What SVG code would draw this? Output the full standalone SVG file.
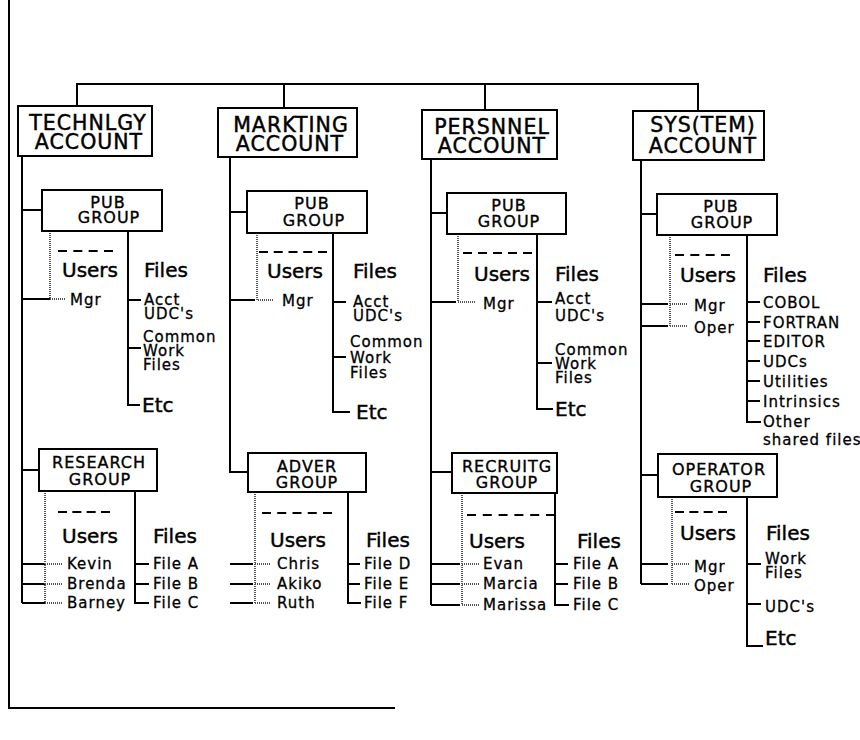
<svg xmlns="http://www.w3.org/2000/svg" width="860" height="740" viewBox="0 0 860 740">
<style>
.box{fill:#fff;stroke:#000;stroke-width:2}
.ln{stroke:#000;stroke-width:2;fill:none}
.dot{stroke:#555;stroke-width:2;stroke-dasharray:1 1;fill:none}
.dash{stroke:#000;stroke-width:2;fill:none}
text{font-family:"DejaVu Sans","Liberation Sans",sans-serif;fill:#000;stroke:#000;stroke-width:0.45px}
.acc{font-size:20.5px;letter-spacing:1px;text-anchor:middle}
.grp{font-size:16px;letter-spacing:1px;text-anchor:middle;stroke-width:0.35px}
.hd{font-size:20px}
.sm{font-size:15px;letter-spacing:1px;stroke-width:0.3px}
</style>
<rect width="860" height="740" fill="#fff"/>
<path class="ln" d="M9,0 V708 H395"/>

<g id="connectors">
<path class="ln" d="M77,106 V84 H698 V111 M284,84 V108 M485,84 V110"/>
<!-- col1 -->
<path class="ln" d="M22,156 V603 M22,210 H42 M22,470 H39 M22,299 H50 M22,564 H45 M22,584 H45 M22,603 H45"/>
<path class="dot" d="M50,231 V299 H66 M45,491 V603 M45,564 H63 M45,584 H63 M45,603 H63"/>
<path class="ln" d="M128,231 V405 H140 M128,300 H141 M128,348 H141 M135,491 V603 H149 M135,564 H149 M135,584 H149"/>
<path class="dash" stroke-dasharray="9 6.33" d="M58,251 H113"/>
<path class="dash" stroke-dasharray="9 5.33" d="M58,512 H110"/>
<!-- col2 -->
<path class="ln" d="M230,157 V472 H248 M230,212 H247 M230,300 H255 M230,564 H253 M230,584 H253 M230,603 H253"/>
<path class="dot" d="M257,233 V300 H273 M255,492 V603 M255,564 H271 M255,584 H271 M255,603 H271"/>
<path class="ln" d="M333,233 V412 H350 M333,302 H346 M333,357 H346 M348,492 V603 H361 M348,564 H360 M348,584 H360"/>
<path class="dash" stroke-dasharray="9 5.75" d="M259,252 H327"/>
<path class="dash" stroke-dasharray="9 6.25" d="M262,513 H332"/>
<!-- col3 -->
<path class="ln" d="M431,159 V605 M431,213 H447 M431,472 H452 M431,302 H456 M431,564 H460 M431,584 H460 M431,605 H460"/>
<path class="dot" d="M458,234 V302 H476 M462,493 V605 M462,564 H479 M462,584 H479 M462,605 H479"/>
<path class="ln" d="M537,234 V409 H553 M537,302 H552 M537,363 H552 M555,493 V605 H569 M555,564 H568 M555,584 H568"/>
<path class="dash" stroke-dasharray="9 6" d="M463,253 H532"/>
<path class="dash" stroke-dasharray="9 6.8" d="M467,515 H555"/>
<!-- col4 -->
<path class="ln" d="M641,160 V584 M641,214 H657 M641,475 H658 M641,304 H668 M641,326 H668 M641,564 H668 M641,584 H668"/>
<path class="dot" d="M670,235 V326 M670,304 H687 M670,326 H687 M672,497 V584 M672,564 H689 M672,584 H689"/>
<path class="ln" d="M747,235 V422 H761 M747,302 H760 M747,322 H760 M747,341 H760 M747,361 H760 M747,381 H760 M747,401 H760 M747,497 V646 H763 M747,564 H761 M747,604 H761"/>
<path class="dash" stroke-dasharray="9 6.33" d="M675,255 H730"/>
<path class="dash" stroke-dasharray="9 5.33" d="M675,512 H727"/>
</g>

<!-- Accounts -->
<g id="technlgy-account"><rect class="box" x="18" y="106" width="134" height="50"/><text class="acc" x="88" y="130">TECHNLGY</text><text class="acc" x="89" y="149">ACCOUNT</text></g>
<g id="markting-account"><rect class="box" x="218" y="108" width="139" height="49"/><text class="acc" x="291" y="132">MARKTING</text><text class="acc" x="290" y="151">ACCOUNT</text></g>
<g id="persnnel-account"><rect class="box" x="422" y="110" width="135" height="49"/><text class="acc" x="492" y="134">PERSNNEL</text><text class="acc" x="492" y="153">ACCOUNT</text></g>
<g id="system-account"><rect class="box" x="633" y="111" width="131" height="49"/><text class="acc" x="703" y="132">SYS(TEM)</text><text class="acc" x="703" y="153">ACCOUNT</text></g>

<!-- Groups -->
<g id="technlgy-pub"><rect class="box" x="42" y="190" width="120" height="41"/><text class="grp" x="108" y="208">PUB</text><text class="grp" x="109" y="223">GROUP</text></g>
<g id="research-group"><rect class="box" x="39" y="449" width="118" height="42"/><text class="grp" x="99" y="468">RESEARCH</text><text class="grp" x="100" y="485">GROUP</text></g>
<g id="markting-pub"><rect class="box" x="247" y="191" width="120" height="42"/><text class="grp" x="312" y="209">PUB</text><text class="grp" x="314" y="226">GROUP</text></g>
<g id="adver-group"><rect class="box" x="248" y="453" width="118" height="39"/><text class="grp" x="307" y="472">ADVER</text><text class="grp" x="307" y="488">GROUP</text></g>
<g id="persnnel-pub"><rect class="box" x="447" y="193" width="119" height="41"/><text class="grp" x="509" y="211">PUB</text><text class="grp" x="509" y="227">GROUP</text></g>
<g id="recruitg-group"><rect class="box" x="452" y="453" width="105" height="40"/><text class="grp" x="507" y="472">RECRUITG</text><text class="grp" x="507" y="488">GROUP</text></g>
<g id="system-pub"><rect class="box" x="657" y="194" width="120" height="41"/><text class="grp" x="721" y="212">PUB</text><text class="grp" x="722" y="228">GROUP</text></g>
<g id="operator-group"><rect class="box" x="658" y="454" width="119" height="43"/><text class="grp" x="719" y="475">OPERATOR</text><text class="grp" x="721" y="492">GROUP</text></g>

<!-- Contents col1 -->
<g id="technlgy-pub-contents">
<text class="hd" x="62" y="277">Users</text><text class="hd" x="144" y="277">Files</text>
<text class="sm" x="70" y="305">Mgr</text>
<text class="sm" x="144" y="305">Acct</text><text class="sm" x="144" y="319">UDC's</text>
<text class="sm" x="143" y="342">Common</text><text class="sm" x="143" y="356">Work</text><text class="sm" x="143" y="370">Files</text>
<text class="hd" x="142" y="412">Etc</text>
</g>
<g id="research-contents">
<text class="hd" x="62" y="543">Users</text><text class="hd" x="153" y="543">Files</text>
<text class="sm" x="67" y="569">Kevin</text><text class="sm" x="67" y="589">Brenda</text><text class="sm" x="67" y="608">Barney</text>
<text class="sm" x="153" y="569">File A</text><text class="sm" x="153" y="589">File B</text><text class="sm" x="153" y="608">File C</text>
</g>
<!-- col2 -->
<g id="markting-pub-contents">
<text class="hd" x="267" y="278">Users</text><text class="hd" x="353" y="278">Files</text>
<text class="sm" x="282" y="306">Mgr</text>
<text class="sm" x="353" y="307">Acct</text><text class="sm" x="353" y="321">UDC's</text>
<text class="sm" x="350" y="347">Common</text><text class="sm" x="350" y="363">Work</text><text class="sm" x="350" y="378">Files</text>
<text class="hd" x="356" y="419">Etc</text>
</g>
<g id="adver-contents">
<text class="hd" x="270" y="547">Users</text><text class="hd" x="366" y="547">Files</text>
<text class="sm" x="277" y="569">Chris</text><text class="sm" x="277" y="589">Akiko</text><text class="sm" x="277" y="608">Ruth</text>
<text class="sm" x="364" y="569">File D</text><text class="sm" x="364" y="589">File E</text><text class="sm" x="364" y="608">File F</text>
</g>
<!-- col3 -->
<g id="persnnel-pub-contents">
<text class="hd" x="474" y="281">Users</text><text class="hd" x="555" y="281">Files</text>
<text class="sm" x="483" y="309">Mgr</text>
<text class="sm" x="555" y="304">Acct</text><text class="sm" x="555" y="321">UDC's</text>
<text class="sm" x="555" y="355">Common</text><text class="sm" x="555" y="369">Work</text><text class="sm" x="555" y="383">Files</text>
<text class="hd" x="555" y="416">Etc</text>
</g>
<g id="recruitg-contents">
<text class="hd" x="469" y="548">Users</text><text class="hd" x="577" y="548">Files</text>
<text class="sm" x="483" y="569">Evan</text><text class="sm" x="483" y="589">Marcia</text><text class="sm" x="483" y="610">Marissa</text>
<text class="sm" x="573" y="569">File A</text><text class="sm" x="573" y="589">File B</text><text class="sm" x="573" y="610">File C</text>
</g>
<!-- col4 -->
<g id="system-pub-contents">
<text class="hd" x="680" y="282">Users</text><text class="hd" x="763" y="282">Files</text>
<text class="sm" x="694" y="311">Mgr</text><text class="sm" x="694" y="333">Oper</text>
<text class="sm" x="763" y="308">COBOL</text><text class="sm" x="763" y="328">FORTRAN</text><text class="sm" x="763" y="347">EDITOR</text>
<text class="sm" x="763" y="367">UDCs</text><text class="sm" x="763" y="387">Utilities</text><text class="sm" x="763" y="407">Intrinsics</text>
<text class="sm" x="763" y="427">Other</text><text class="sm" x="763" y="445">shared files</text>
</g>
<g id="operator-contents">
<text class="hd" x="680" y="540">Users</text><text class="hd" x="766" y="540">Files</text>
<text class="sm" x="694" y="572">Mgr</text><text class="sm" x="694" y="591">Oper</text>
<text class="sm" x="765" y="564">Work</text><text class="sm" x="765" y="578">Files</text>
<text class="sm" x="765" y="612">UDC's</text>
<text class="hd" x="765" y="645">Etc</text>
</g>
</svg>
